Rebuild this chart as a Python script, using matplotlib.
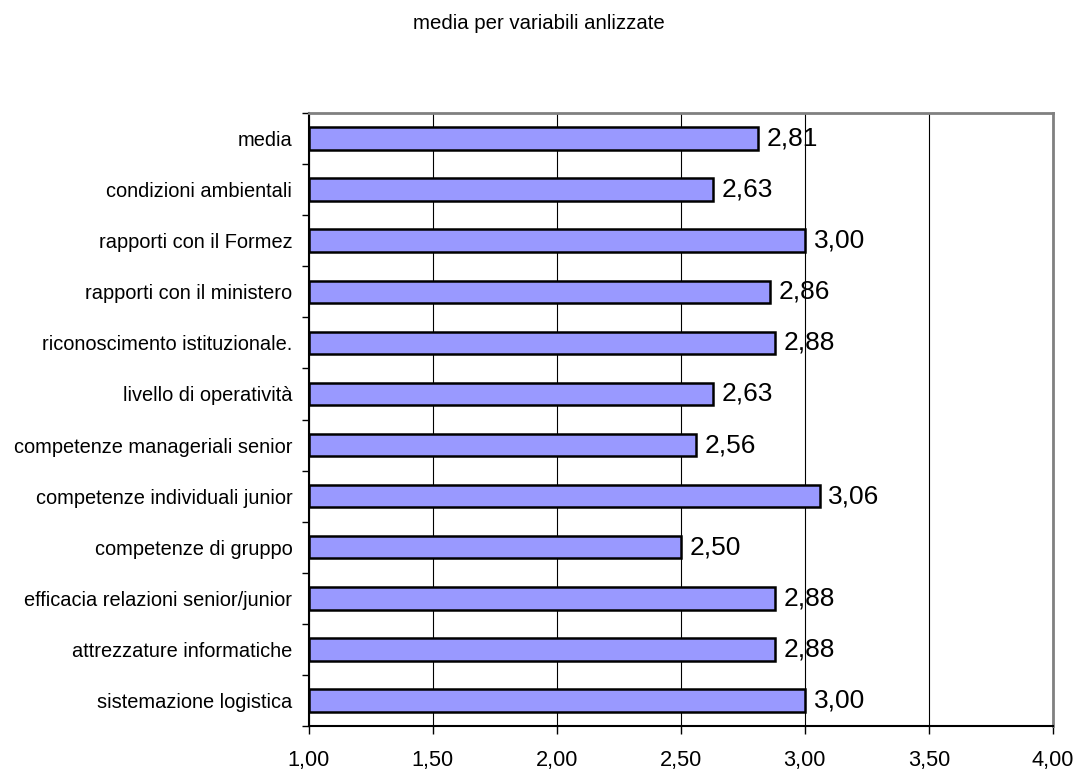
import matplotlib
matplotlib.use('Agg')
from matplotlib import pyplot as plt
import numpy as np

plt.rcParams['font.family'] = ['Liberation Sans', 'DejaVu Sans']

categories = [
    'sistemazione logistica',
    'attrezzature informatiche',
    'efficacia relazioni senior/junior',
    'competenze di gruppo',
    'competenze individuali junior',
    'competenze manageriali senior',
    'livello di operatività',
    'riconoscimento istituzionale.',
    'rapporti con il ministero',
    'rapporti con il Formez',
    'condizioni ambientali',
    'media',
]
values = [3.00, 2.88, 2.88, 2.50, 3.06, 2.56, 2.63, 2.88, 2.86, 3.00, 2.63, 2.81]
x_ticks = [1.0, 1.5, 2.0, 2.5, 3.0, 3.5, 4.0]

def fmt(v):
    return f'{v:.2f}'.replace('.', ',')

def main():
    fig = plt.figure(figsize=(10.78, 7.73), dpi=100)
    ax = fig.add_axes([0.2866, 0.0608, 0.690, 0.793])
    y = np.arange(len(categories))
    base = x_ticks[0]
    ax.barh(y, [v - base for v in values], left=base, height=0.44,
            color='#9999FF', edgecolor='black', linewidth=1.8, zorder=3)
    for yi, v in zip(y, values):
        ax.text(v + 0.035, yi, fmt(v), va='center', ha='left', fontsize=19, zorder=4)

    ax.set_xlim(x_ticks[0], x_ticks[-1])
    ax.set_ylim(-0.5, len(categories) - 0.5)
    ax.set_xticks(x_ticks)
    ax.set_xticklabels([fmt(t) for t in x_ticks], fontsize=15.7)
    ax.set_yticks(y)
    ax.set_yticklabels(categories, fontsize=14.4)
    ax.set_yticks(np.arange(len(categories) + 1) - 0.5, minor=True)
    ax.tick_params(axis='y', which='major', length=0, pad=12)
    ax.tick_params(axis='y', which='minor', length=5, width=1, direction='out')
    ax.tick_params(axis='x', length=6, width=1, direction='out', pad=11.5)
    ax.grid(axis='x', color='black', linewidth=0.8, zorder=1)

    for side in ['left', 'bottom']:
        ax.spines[side].set_color('black')
        ax.spines[side].set_linewidth(1.5)
    for side in ['top', 'right']:
        ax.spines[side].set_color('#808080')
        ax.spines[side].set_linewidth(2)

    fig.text(0.5, 0.969, 'media per variabili anlizzate', ha='center', va='center', fontsize=14.7)
    fig.savefig('out.png', dpi=100)

if __name__ == '__main__':
    main()
